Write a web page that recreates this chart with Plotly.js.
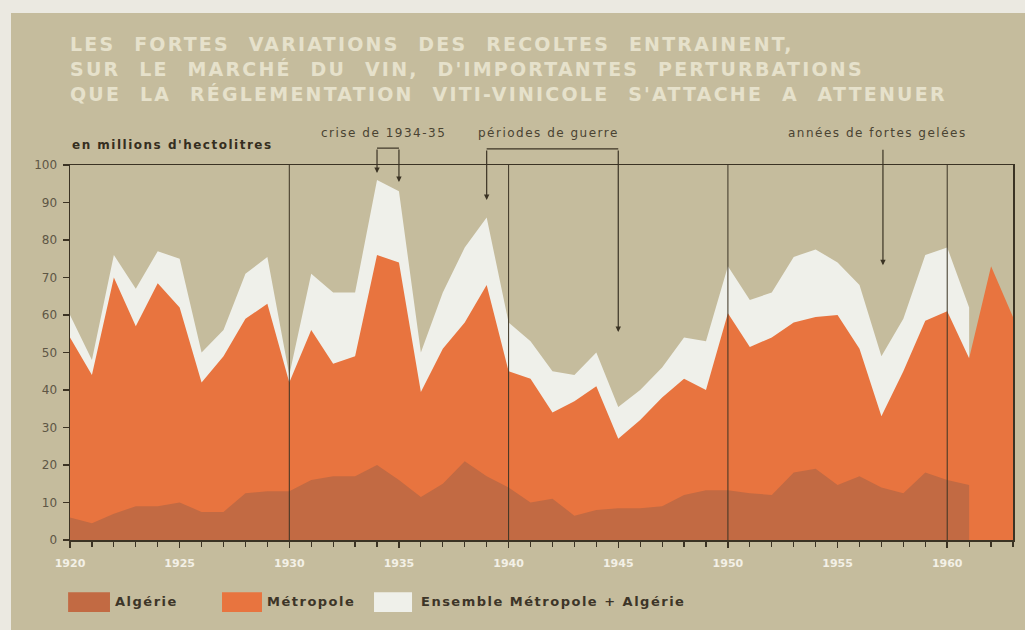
<!DOCTYPE html>
<html>
<head>
<meta charset="utf-8">
<script src="https://cdn.plot.ly/plotly-3.0.1.min.js"></script>
<style>
  html, body { margin: 0; padding: 0; background: #ebe9e1; }
  #chart { position: absolute; left: 11px; top: 13px; width: 1014px; height: 617px; }
  .gtitle { letter-spacing: 2.2px; word-spacing: 10px; }
  .annotation-text { letter-spacing: 1.5px; }
</style>
</head>
<body>
<div id="chart"></div>
<script>
// Wine harvests, millions of hectolitres
const years = [1920, 1921, 1922, 1923, 1924, 1925, 1926, 1927, 1928, 1929,
               1930, 1931, 1932, 1933, 1934, 1935, 1936, 1937, 1938, 1939,
               1940, 1941, 1942, 1943, 1944, 1945, 1946, 1947, 1948, 1949,
               1950, 1951, 1952, 1953, 1954, 1955, 1956, 1957, 1958, 1959,
               1960, 1961, 1962, 1963];

const ensemble = [60, 48, 76, 67, 77, 75, 50, 56, 71, 75.5,
                  44, 71, 66, 66, 96, 93, 50, 66, 78, 86,
                  58, 53, 45, 44, 50, 35.5, 40, 46, 54, 53,
                  73, 64, 66, 75.5, 77.5, 74, 68, 49, 59, 76,
                  78, 62];

const metropole = [54, 44, 70, 57, 68.5, 62, 42, 49, 59, 63,
                   42, 56, 47, 49, 76, 74, 39.5, 51, 58, 68,
                   45, 43, 34, 37, 41, 27, 32, 38, 43, 40,
                   60.5, 51.5, 54, 58, 59.5, 60, 51, 33, 45, 58.5,
                   61, 48.5, 73, 59.5];

const algerie = [6, 4.5, 7, 9, 9, 10, 7.5, 7.5, 12.5, 13,
                 13, 16, 17, 17, 20, 16, 11.5, 15, 21, 17,
                 14, 10, 11, 6.5, 8, 8.5, 8.5, 9, 12, 13.3,
                 13.3, 12.5, 12, 18, 19, 14.7, 17, 14, 12.5, 18,
                 16, 14.7];

const xTicks = [1920, 1925, 1930, 1935, 1940, 1945, 1950, 1955, 1960];
const decadeLines = [1930, 1940, 1950, 1960];

const titleLines = [
  "LES FORTES VARIATIONS DES RECOLTES ENTRAINENT,",
  "SUR LE MARCHÉ DU VIN, D'IMPORTANTES PERTURBATIONS",
  "QUE LA RÉGLEMENTATION VITI-VINICOLE S'ATTACHE A ATTENUER"
];

const legendNames = ["Algérie", "Métropole", "Ensemble Métropole + Algérie"];

// colours
const khaki = '#c5bc9d';
const ink = '#3b3324';
const colAlg = '#c26a43';
const colMet = '#e8743f';
const colEns = '#eff0ea';

function area(xs, ys, color, name) {
  return {
    x: xs, y: ys, name: name,
    type: 'scatter', mode: 'lines',
    line: {width: 0, color: color},
    fill: 'tozeroy', fillcolor: color,
    hoverinfo: 'x+y+name'
  };
}

const traces = [
  area(years.slice(0, ensemble.length), ensemble, colEns, legendNames[2]),
  area(years, metropole, colMet, legendNames[1]),
  area(years.slice(0, algerie.length), algerie, colAlg, legendNames[0])
];

// decade separators
let shapes = decadeLines.map(yr => ({
  type: 'line', xref: 'x', yref: 'y', x0: yr, x1: yr, y0: 0, y1: 100,
  line: {color: ink, width: 1}, layer: 'above'
}));

// brackets above the plot
shapes.push({type: 'line', xref: 'x', yref: 'paper', x0: 1934, x1: 1935, y0: 1.045, y1: 1.045,
             line: {color: ink, width: 1.2}});
shapes.push({type: 'line', xref: 'x', yref: 'paper', x0: 1939, x1: 1945, y0: 1.043, y1: 1.043,
             line: {color: ink, width: 1.2}});

// custom legend swatches
const swatchX = [[-0.002, 0.0424], [0.1612, 0.2036], [0.3224, 0.3627]];
const swatchCol = [colAlg, colMet, colEns];
swatchX.forEach((sx, i) => {
  shapes.push({type: 'rect', xref: 'paper', yref: 'paper', x0: sx[0], x1: sx[1],
               y0: -0.192, y1: -0.139, fillcolor: swatchCol[i], line: {width: 0}});
});

function arrow(x, y, len) {
  return {x: x, y: y, xref: 'x', yref: 'y', text: '', showarrow: true,
          ax: 0, ay: -len, arrowhead: 2, arrowsize: 0.9, arrowwidth: 1.2,
          arrowcolor: ink, standoff: 0};
}

const noteFont = {family: 'DejaVu Sans', size: 12, color: '#4a4332'};

let annotations = [
  {text: "en millions d'hectolitres", xref: 'paper', yref: 'paper', x: 0, y: 1.053,
   xanchor: 'left', yanchor: 'middle', showarrow: false,
   font: {family: 'DejaVu Sans', size: 12, color: '#352e20', weight: 'bold'}},
  {text: 'crise de 1934-35', xref: 'x', yref: 'paper', x: 1934.3, y: 1.085,
   xanchor: 'center', yanchor: 'middle', showarrow: false, font: noteFont},
  {text: 'périodes de guerre', xref: 'x', yref: 'paper', x: 1941.8, y: 1.085,
   xanchor: 'center', yanchor: 'middle', showarrow: false, font: noteFont},
  {text: 'années de fortes gelées', xref: 'x', yref: 'paper', x: 1956.8, y: 1.085,
   xanchor: 'center', yanchor: 'middle', showarrow: false, font: noteFont},
  arrow(1934, 97.9, 25),
  arrow(1935, 95.5, 34),
  arrow(1939, 90.7, 51),
  arrow(1945, 55.5, 183),
  arrow(1957.07, 73.3, 117)
];

const legendTextX = [0.0456, 0.2068, 0.3701];
legendNames.forEach((nm, i) => {
  annotations.push({text: nm, xref: 'paper', yref: 'paper', x: legendTextX[i], y: -0.165,
                    xanchor: 'left', yanchor: 'middle', showarrow: false,
                    font: {family: 'DejaVu Sans', size: 13, color: '#3d3528', weight: 'bold'}});
});

const layout = {
  width: 1014, height: 617,
  margin: {l: 59, r: 12, t: 152, b: 90},
  paper_bgcolor: khaki, plot_bgcolor: khaki,
  font: {family: 'DejaVu Sans', color: ink},
  showlegend: false,
  title: {
    text: titleLines.join('<br>'),
    xref: 'paper', x: 0, xanchor: 'left',
    yref: 'container', y: 0.938, yanchor: 'top',
    font: {family: 'DejaVu Sans', size: 19, color: '#e6e1cb', weight: 'bold'}
  },
  xaxis: {
    range: [1920, 1963], tickvals: xTicks, ticktext: xTicks.map(String),
    ticks: 'outside', ticklen: 6, tickwidth: 1.5, tickcolor: ink,
    minor: {dtick: 1, ticks: 'outside', ticklen: 5, tickwidth: 1.2, tickcolor: ink},
    showline: true, linecolor: ink, linewidth: 1.5, mirror: true,
    showgrid: false, zeroline: false, ticklabelstandoff: 6,
    tickfont: {family: 'DejaVu Sans', size: 11, color: '#f3f0e6', weight: 'bold'}
  },
  yaxis: {
    range: [0, 100], dtick: 10,
    ticks: 'outside', ticklen: 6, tickwidth: 1.5, tickcolor: ink,
    showline: true, linecolor: ink, linewidth: 1.5, mirror: true,
    showgrid: false, zeroline: false, ticklabelstandoff: 3,
    tickfont: {family: 'DejaVu Sans', size: 12, color: '#5e5645'}
  },
  shapes: shapes,
  annotations: annotations
};

Plotly.newPlot('chart', traces, layout, {displayModeBar: false, staticPlot: true});
</script>
</body>
</html>
